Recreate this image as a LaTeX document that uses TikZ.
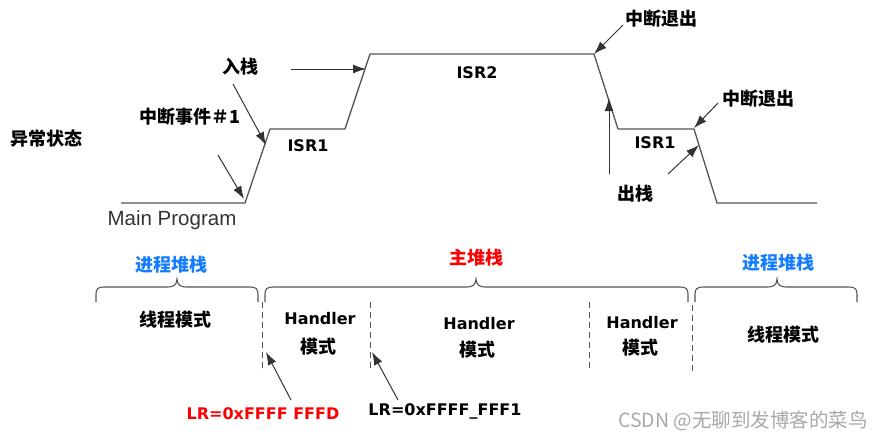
\documentclass[tikz,border=0pt]{standalone}
\usepackage{fontspec}
\setmainfont{DejaVu Sans}
\newfontfamily\cjk{Noto Sans CJK SC}
\newfontfamily\arialf{Liberation Sans}
\usetikzlibrary{arrows.meta}
\definecolor{wave}{HTML}{555555}
\definecolor{arr}{HTML}{333333}
\definecolor{stkblue}{RGB}{20,125,255}
\definecolor{wm}{HTML}{A8A8A8}
\tikzset{
  cn/.style={font=\cjk\bfseries\fontsize{18}{20}\selectfont, inner sep=0pt},
  lt/.style={font=\bfseries\fontsize{16}{18}\selectfont, inner sep=0pt},
  wv/.style={draw=wave, line width=1.3pt, line join=round},
  ar/.style={draw=arr, line width=1pt, -{Latex[length=13pt,width=9pt]}},
  brc/.style={draw=wave, line width=1.1pt},
  dsh/.style={draw=wave, line width=1pt, dash pattern=on 6pt off 4pt},
}
\newcommand{\mybrace}[4]{% x1, x2, xm, bottom
  \draw[brc] (#1,#4) -- (#1,#4-8) .. controls (#1,#4-13) and (#1+2,#4-15) .. (#1+8,#4-15)
    -- (#3-9,#4-15) .. controls (#3-4,#4-15) and (#3,#4-17) .. (#3,#4-23)
    .. controls (#3,#4-17) and (#3+4,#4-15) .. (#3+9,#4-15)
    -- (#2-8,#4-15) .. controls (#2-2,#4-15) and (#2,#4-13) .. (#2,#4-8) -- (#2,#4);}
\begin{document}
\begin{tikzpicture}[x=1pt,y=-1pt]
\useasboundingbox (0,0) rectangle (884,440);
% waveform
\coordinate (w0) at (121,203);
\coordinate (w1) at (245,203);
\coordinate (w2) at (270,129);
\coordinate (w3) at (345,129);
\coordinate (w4) at (370,54);
\coordinate (w5) at (594,54);
\coordinate (w6) at (618,129);
\coordinate (w7) at (694,129);
\coordinate (w8) at (717,203);
\coordinate (w9) at (817,203);
\draw[wv] (w0) -- (w1) -- (w2) -- (w3) -- (w4) -- (w5) -- (w6) -- (w7) -- (w8) -- (w9);

% labels top
\node[cn] (yc) at (46,139) {异常状态};
\node[cn] (zd1) at (190,117) {中断事件＃1};
\node[cn] (rz) at (240,67) {入栈};
\node[lt] (isr1a) at (308,146) {ISR1};
\node[font=\arialf\fontsize{20.5}{22}\selectfont, text=arr, inner sep=0pt] (mp) at (172,220) {Main Program};
\node[lt] (isr2) at (477,73) {ISR2};
\node[cn] (tc1) at (661,19) {中断退出};
\node[cn] (tc2) at (758,99) {中断退出};
\node[lt] (isr1b) at (655,143) {ISR1};
\node[cn] (cz) at (635,194) {出栈};

% arrows top
\coordinate (a1s) at (218,155); \coordinate (a1e) at (244,199);
\coordinate (a2s) at (233,84);  \coordinate (a2e) at (266,145);
\coordinate (a3s) at (291,69);  \coordinate (a3e) at (366,69);
\coordinate (a4s) at (623,25);  \coordinate (a4e) at (594,54);
\coordinate (a5s) at (609,174); \coordinate (a5e) at (609,98);
\coordinate (a6s) at (668,174); \coordinate (a6e) at (699,145);
\coordinate (a7s) at (718,103); \coordinate (a7e) at (694,128);
\draw[ar] (a1s) -- (a1e);
\draw[ar] (a2s) -- (a2e);
\draw[ar] (a3s) -- (a3e);
\draw[ar] (a4s) -- (a4e);
\draw[ar] (a5s) -- (a5e);
\draw[ar] (a6s) -- (a6e);
\draw[ar] (a7s) -- (a7e);

% bottom part
\node[cn, text=stkblue] (ps1) at (171,265) {进程堆栈};
\node[cn, text=red] (ms) at (476,258) {主堆栈};
\node[cn, text=stkblue] (ps2) at (778,263) {进程堆栈};
\mybrace{96}{258}{177}{302}
\mybrace{265}{688}{476}{302}
\mybrace{695}{857}{777}{302}

\draw[dsh] (262,302) -- (262,372);
\draw[dsh] (370,302) -- (370,372);
\draw[dsh] (589,302) -- (589,372);
\draw[dsh] (692,305) -- (692,372);

\node[cn] (tm1) at (175,320) {线程模式};
\node[lt] (h1) at (320,319) {Handler};
\node[cn] (m1) at (318,347) {模式};
\node[lt] (h2) at (479,324) {Handler};
\node[cn] (m2) at (477,350) {模式};
\node[lt] (h3) at (642,323) {Handler};
\node[cn] (m3) at (640,348) {模式};
\node[cn] (tm2) at (783,335) {线程模式};

\node[lt, text=red] (lr1) at (263,414) {LR=0xFFFF\ FFFD};
\node[lt] (lr2) at (445,411) {LR=0xFFFF\_FFF1};
\coordinate (b1s) at (291,400); \coordinate (b1e) at (266,352);
\coordinate (b2s) at (398,400); \coordinate (b2e) at (372,352);
\draw[ar] (b1s) -- (b1e);
\draw[ar] (b2s) -- (b2e);

\node[font=\cjk\fontsize{19.5}{21}\selectfont, text=wm, inner sep=0pt] (wmk) at (743,421) {CSDN @无聊到发博客的菜鸟};
\end{tikzpicture}
\end{document}
